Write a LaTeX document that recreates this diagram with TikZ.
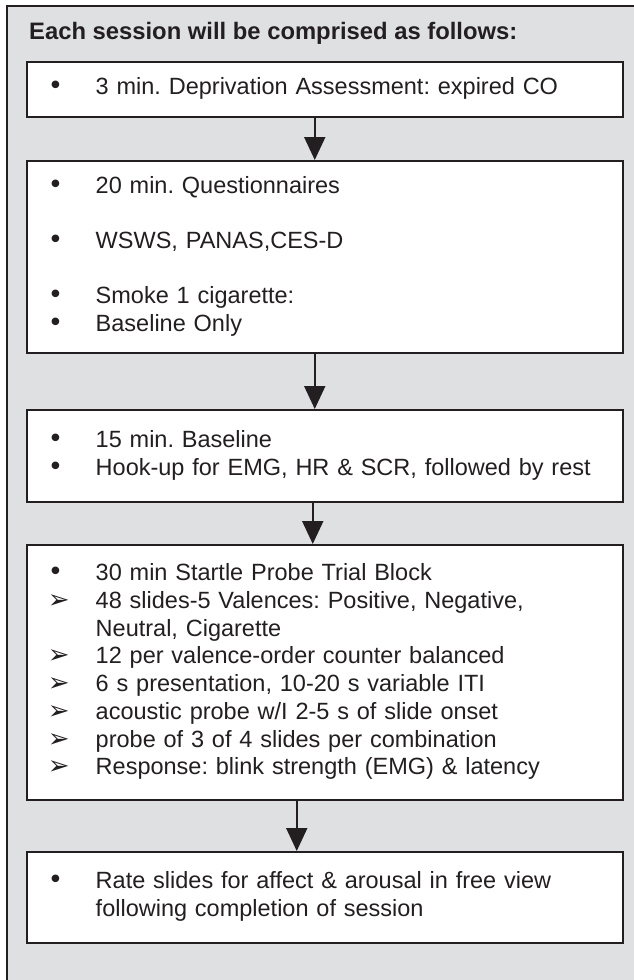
\documentclass[tikz,border=0pt]{standalone}
\usepackage{fontspec}
\setmainfont{Liberation Sans}
\newfontfamily\dingfont{DejaVu Sans}
\usetikzlibrary{arrows.meta}
\definecolor{panel}{HTML}{DFE0E2}
\definecolor{ink}{HTML}{231F20}
\frenchspacing
\newcommand\dotitem{\makebox[69pt][l]{\hspace{21pt}{\dingfont\fontsize{26}{26}\selectfont •}}}
\newcommand\arrowitem{\makebox[69pt][l]{\hspace{21pt}{\dingfont\fontsize{26}{26}\selectfont ➢}}}
\newcommand\goon{\makebox[69pt]{}}
\begin{document}
\begin{tikzpicture}[x=1pt,y=-1pt, stage/.style={draw=ink, line width=1.5pt,
fill=white, anchor=north west, minimum width=596pt, text width=596pt, inner
xsep=0pt, inner ysep=0pt, align=left, text=ink,
font=\fontsize{23.5}{27.7}\selectfont}, flow/.style={-{Triangle[width=21pt,
length=23pt]}, line width=2pt, draw=ink}]
    \useasboundingbox (0,0) rectangle (634,980);
    \clip (0,0) rectangle (634,980);
    \fill[panel] (7,6) rectangle (640,990);
    \draw[ink, line width=2pt] (7,990) -- (7,6) -- (640,6);
    \node[anchor=base west, inner sep=0pt, text=ink,
font=\bfseries\fontsize{23.8}{28}\selectfont] (title) at (29,39) {Each
session will be comprised as follows:};
    \node[stage, minimum height=55pt] (depr) at (26,61) {\dotitem 3 min.
Deprivation Assessment: expired CO\strut};
    \node[stage, minimum height=192pt] (quest) at (26,160) {\dotitem 20
min. Questionnaires\strut\\ \strut\\ \dotitem WSWS, PANAS,CES-D\strut\\
\strut\\ \dotitem Smoke 1 cigarette:\strut\\ \dotitem Baseline
Only\strut};
    \node[stage, minimum height=92pt] (base) at (26,409) {\dotitem 15 min.
Baseline\strut\\ \dotitem Hook-up for EMG, HR \& SCR, followed by
rest\strut};
    \node[stage, minimum height=255pt] (probe) at (26,544) {\dotitem 30
min Startle Probe Trial Block\strut\\ \arrowitem 48 slides-5 Valences:
Positive, Negative,\strut\\ \goon Neutral, Cigarette\strut\\ \arrowitem 12
per valence-order counter balanced\strut\\ \arrowitem 6 s presentation,
10-20 s variable ITI\strut\\ \arrowitem acoustic probe w/I 2-5 s of slide
onset\strut\\ \arrowitem probe of 3 of 4 slides per combination\strut\\
\arrowitem Response: blink strength (EMG) \& latency\strut};
    \node[stage, minimum height=91pt] (rate) at (26,851) {\dotitem Rate
slides for affect \& arousal in free view\strut\\ \goon following
completion of session\strut};
    \draw[flow] ([xshift=-10pt]depr.south) -- ([xshift=-10pt]quest.north);
    \draw[flow] ([xshift=-10pt]quest.south) -- ([xshift=-10pt]base.north);
    \draw[flow] ([xshift=-12pt]base.south) -- ([xshift=-12pt]probe.north);
    \draw[flow] ([xshift=-28pt]probe.south) -- ([xshift=-28pt]rate.north);
\end{tikzpicture}
\end{document}
